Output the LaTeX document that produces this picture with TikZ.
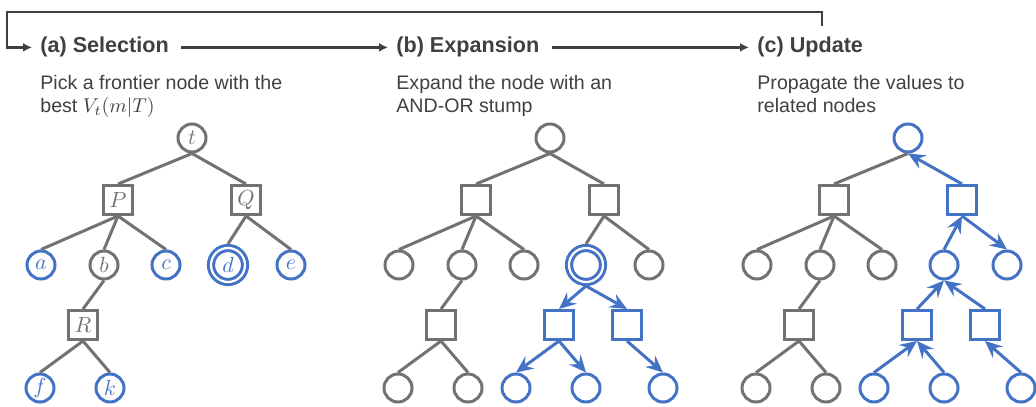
\documentclass[tikz,border=0pt]{standalone}
\usepackage{fontspec}
\setmainfont{Liberation Sans}
\usetikzlibrary{arrows.meta}
\definecolor{treegray}{RGB}{118,113,113}
\definecolor{nodeblue}{RGB}{68,114,196}
\definecolor{inkgray}{RGB}{64,64,64}
\tikzset{
  ornode/.style={circle,draw=treegray,line width=1.5pt,minimum size=14pt,inner sep=0pt,text=treegray,font=\fontsize{11}{13}\selectfont},
  andnode/.style={rectangle,draw=treegray,line width=1.5pt,minimum size=14.5pt,inner sep=0pt,text=treegray,font=\fontsize{11}{13}\selectfont},
  hot/.style={draw=nodeblue,text=nodeblue},
  picked/.style={hot,double=white,double distance=1.1pt,minimum size=17pt,outer sep=2pt},
  branch/.style={treegray,line width=1.5pt},
  push/.style={nodeblue,line width=1.5pt,-{Stealth[length=8.5pt,width=7.5pt,inset=3pt]}},
  flow/.style={inkgray,line width=1.1pt,-{Latex[length=4.5pt,width=4.5pt]}},
  stage/.style={font=\bfseries\fontsize{10.8}{13}\selectfont,text=inkgray,inner sep=0pt,anchor=base west},
  blurb/.style={font=\fontsize{9.8}{11.5}\selectfont,text=inkgray,inner sep=0pt,anchor=north west,align=left},
}
\begin{document}
\begin{tikzpicture}[x=0.5pt,y=-0.5pt]
	\useasboundingbox (0,0) rectangle (1036,406);

	% headings and the loop between the three steps
	\node[stage] (selA) at (40,53) {(a) Selection};
	\node[stage] (expB) at (396,53) {(b) Expansion};
	\node[stage] (updC) at (757,53) {(c) Update};
	\node[blurb] (pickA) at (40,75) {Pick a frontier node with the\\best $V_t(m|T)$};
	\node[blurb] (pickB) at (396,75) {Expand the node with an\\AND-OR stump};
	\node[blurb] (pickC) at (757,75) {Propagate the values to\\related nodes};

	\draw[flow,shorten <=6pt,shorten >=4pt] (selA.east) -- (expB.west);
	\draw[flow,shorten <=6pt,shorten >=4pt] (updC.west -| expB.east) -- (updC.west);
	\coordinate (loopout) at (822,26);
	\coordinate (loopcorner) at (7,12);
	\draw[flow,shorten >=4pt] (loopout) -- (loopout |- loopcorner) -- (loopcorner) |- (selA.west);

	% (a) selection
	\node[ornode] (aroot) at (192,138) {$t$};
	\node[andnode] (aP) at (118,200) {$P$};
	\node[andnode] (aQ) at (246,200) {$Q$};
	\node[ornode,hot] (aa) at (41,265) {$a$};
	\node[ornode] (ab) at (104,265) {$b$};
	\node[ornode,hot] (ac) at (166,265) {$c$};
	\node[ornode,picked] (ad) at (228,265) {$d$};
	\node[ornode,hot] (ae) at (291,265) {$e$};
	\node[andnode] (aR) at (83,325) {$R$};
	\node[ornode,hot] (af) at (40,388) {$f$};
	\node[ornode,hot] (ak) at (110,388) {$k$};

	\draw[branch] (aroot.south) -- (aP.north);
	\draw[branch] (aroot.south) -- (aQ.north);
	\draw[branch] (aP.south) -- (aa.north);
	\draw[branch] (aP.south) -- (ab.north);
	\draw[branch] (aP.south) -- (ac.north);
	\draw[branch] (aQ.south) -- (ad.north);
	\draw[branch] (aQ.south) -- (ae.north);
	\draw[branch] (ab.south) -- (aR.north);
	\draw[branch] (aR.south) -- (af.north);
	\draw[branch] (aR.south) -- (ak.north);

	% (b) expansion
	\begin{scope}[shift={(358,0)}]
		\node[ornode] (broot) at (192,138) {};
		\node[andnode] (bP) at (118,200) {};
		\node[andnode] (bQ) at (246,200) {};
		\node[ornode] (ba) at (41,265) {};
		\node[ornode] (bb) at (104,265) {};
		\node[ornode] (bc) at (166,265) {};
		\node[ornode,picked] (bd) at (228,265) {};
		\node[ornode] (be) at (291,265) {};
		\node[andnode] (bR) at (83,325) {};
		\node[ornode] (bf) at (40,388) {};
		\node[ornode] (bk) at (110,388) {};
		\node[andnode,hot] (bS) at (201,325) {};
		\node[andnode,hot] (bT) at (269,325) {};
		\node[ornode,hot] (bg) at (158,388) {};
		\node[ornode,hot] (bh) at (228,388) {};
		\node[ornode,hot] (bi) at (305,388) {};
	\end{scope}

	\draw[branch] (broot.south) -- (bP.north);
	\draw[branch] (broot.south) -- (bQ.north);
	\draw[branch] (bP.south) -- (ba.north);
	\draw[branch] (bP.south) -- (bb.north);
	\draw[branch] (bP.south) -- (bc.north);
	\draw[branch] (bQ.south) -- (bd.north);
	\draw[branch] (bQ.south) -- (be.north);
	\draw[branch] (bb.south) -- (bR.north);
	\draw[branch] (bR.south) -- (bf.north);
	\draw[branch] (bR.south) -- (bk.north);
	\draw[push] (bd.south) -- (bS.north);
	\draw[push] (bd.south) -- (bT.north);
	\draw[push] (bS.south) -- (bg.north);
	\draw[push] (bS.south) -- (bh.north);
	\draw[push] (bT.south) -- (bi.north);

	% (c) update
	\begin{scope}[shift={(716,0)}]
		\node[ornode,hot] (croot) at (192,138) {};
		\node[andnode] (cP) at (118,200) {};
		\node[andnode,hot] (cQ) at (246,200) {};
		\node[ornode] (ca) at (41,265) {};
		\node[ornode] (cb) at (104,265) {};
		\node[ornode] (cc) at (166,265) {};
		\node[ornode,hot] (cd) at (228,265) {};
		\node[ornode,hot] (ce) at (291,265) {};
		\node[andnode] (cR) at (83,325) {};
		\node[ornode] (cf) at (40,388) {};
		\node[ornode] (ck) at (110,388) {};
		\node[andnode,hot] (cS) at (201,325) {};
		\node[andnode,hot] (cT) at (269,325) {};
		\node[ornode,hot] (cg) at (158,388) {};
		\node[ornode,hot] (ch) at (228,388) {};
		\node[ornode,hot] (ci) at (305,388) {};
	\end{scope}

	\draw[branch] (croot.south) -- (cP.north);
	\draw[push] (cQ.north) -- (croot.south);
	\draw[branch] (cP.south) -- (ca.north);
	\draw[branch] (cP.south) -- (cb.north);
	\draw[branch] (cP.south) -- (cc.north);
	\draw[push] (cd.north) -- (cQ.south);
	\draw[push] (cQ.south) -- (ce.north);
	\draw[branch] (cb.south) -- (cR.north);
	\draw[branch] (cR.south) -- (cf.north);
	\draw[branch] (cR.south) -- (ck.north);
	\draw[push] (cS.north) -- (cd.south);
	\draw[push] (cT.north) -- (cd.south);
	\draw[push] (cg.north) -- (cS.south);
	\draw[push] (ch.north) -- (cS.south);
	\draw[push] (ci.north) -- (cT.south);

\end{tikzpicture}
\end{document}
